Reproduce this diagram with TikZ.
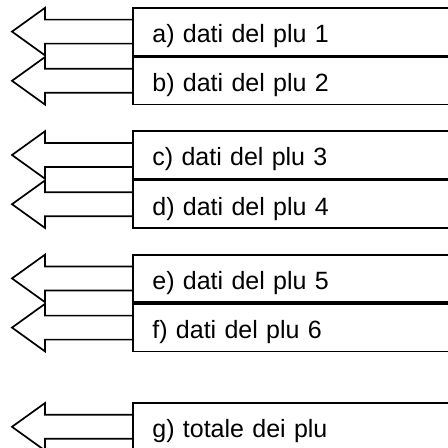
\documentclass[tikz,border=0pt]{standalone}
\usepackage{fontspec}
\setmainfont{Liberation Sans}
\usetikzlibrary{positioning}
\tikzset{
  plurow/.style={draw, anchor=north west, align=left, text width=291pt,
    inner xsep=19.5pt, inner ysep=0pt, text height=34.7pt, text depth=12.8pt,
    font=\fontsize{25}{30}\selectfont},
}
% arrow pointing left out of a row
\newcommand{\pluarrow}[1]{\draw (#1.west) ++(0,12) -- ++(-87,0) -- ++(0,11.75)
  -- ++(-33,-23.75) -- ++(33,-23.75) -- ++(0,11.75) -- ++(87,0);}
\begin{document}
\begin{tikzpicture}[x=1pt,y=1pt,line width=1.7pt]
\useasboundingbox (0,0) rectangle (448,-448);
\clip (0,0) rectangle (448,-448);
%
\node[plurow] (ra) at (132,-7) {a) dati del plu 1};
\node[plurow, below=0pt of ra] (rb) {b) dati del plu 2};
\node[plurow, below=25pt of rb] (rc) {c) dati del plu 3};
\node[plurow, below=0pt of rc] (rd) {d) dati del plu 4};
\node[plurow, below=25pt of rd] (re) {e) dati del plu 5};
\node[plurow, below=0pt of re] (rf) {f) dati del plu 6};
\node[plurow, below=50pt of rf] (rg) {g) totale dei plu};
%
\pluarrow{ra}
\pluarrow{rb}
\pluarrow{rc}
\pluarrow{rd}
\pluarrow{re}
\pluarrow{rf}
\pluarrow{rg}
\end{tikzpicture}
\end{document}
